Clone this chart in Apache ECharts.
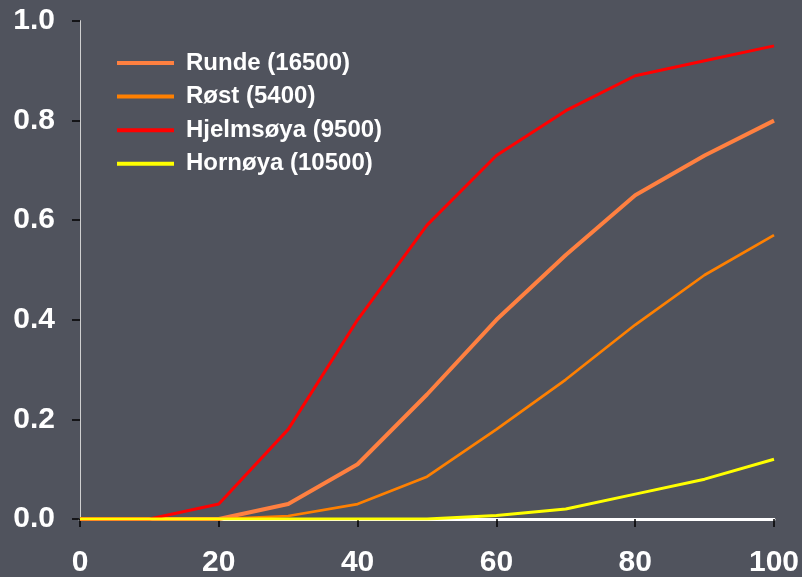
<!DOCTYPE html>
<html>
<head>
<meta charset="utf-8">
<script src="https://cdn.jsdelivr.net/npm/echarts@6/dist/echarts.min.js"></script>
<style>
html,body{margin:0;padding:0;background:#50535d;}
#c{width:802px;height:577px;}
</style>
</head>
<body>
<div id="c"></div>
<script>
const xValues = [0, 10, 20, 30, 40, 50, 60, 70, 80, 90, 100];
const seriesNames = ['Runde (16500)', 'Røst (5400)', 'Hjelmsøya (9500)', 'Hornøya (10500)'];
const runde = [0, 0, 0, 0.03, 0.11, 0.25, 0.40, 0.53, 0.65, 0.73, 0.80];
const rost = [0, 0, 0, 0.006, 0.03, 0.085, 0.18, 0.28, 0.39, 0.49, 0.57];
const hjelmsoya = [0, 0, 0.03, 0.18, 0.40, 0.59, 0.73, 0.82, 0.89, 0.92, 0.95];
const hornoya = [0, 0, 0, 0, 0, 0, 0.007, 0.02, 0.05, 0.08, 0.12];
const xTicks = [0, 20, 40, 60, 80, 100];
const yTicks = [0, 0.2, 0.4, 0.6, 0.8, 1.0];

const colors = ['#ff8040', '#ff8000', '#ff0000', '#ffff00'];
const widths = [4, 2.7, 3, 3];
const allData = [runde, rost, hjelmsoya, hornoya];

const chart = echarts.init(document.getElementById('c'), null, {renderer: 'canvas'});
const font = 'Liberation Sans, Arial, sans-serif';
chart.setOption({
  backgroundColor: '#50535d',
  animation: false,
  grid: {left: 80, right: 28, top: 21, bottom: 58, show: false, containLabel: false, outerBoundsMode: 'none'},
  legend: {
    show: true,
    left: 117,
    top: 51,
    padding: 0,
    orient: 'vertical',
    itemWidth: 57,
    itemHeight: 14,
    itemGap: 9.6,
    icon: 'path://M0,0 L57,0 L57,4 L0,4 Z',
    textStyle: {color: '#ffffff', fontFamily: font, fontWeight: 'bold', fontSize: 24, lineHeight: 24, padding: [0, 0, 0, 7]},
    data: seriesNames.map((n, i) => ({name: n, itemStyle: {color: colors[i]}}))
  },
  xAxis: [{
    type: 'value', min: xTicks[0], max: xTicks[xTicks.length - 1], interval: 20,
    axisLine: {show: true, onZero: false, lineStyle: {color: '#ffffff', width: 2}},
    axisTick: {show: true, inside: false, length: 8, lineStyle: {color: '#000000', width: 1.5}},
    axisLabel: {color: '#ffffff', fontFamily: font, fontWeight: 'bold', fontSize: 30, margin: 29},
    splitLine: {show: false}
  }, {
    type: 'value', position: 'top', min: 0, max: 100,
    axisLine: {show: true, lineStyle: {color: '#ffffff', width: 3}},
    axisTick: {show: false}, axisLabel: {show: false}, splitLine: {show: false}
  }],
  yAxis: [{
    type: 'value', min: yTicks[0], max: yTicks[yTicks.length - 1], interval: 0.2,
    axisLine: {show: true, onZero: false, lineStyle: {color: '#ffffff', width: 1}},
    axisTick: {show: true, inside: false, length: 8, lineStyle: {color: '#000000', width: 1.5}},
    axisLabel: {color: '#ffffff', fontFamily: font, fontWeight: 'bold', fontSize: 30, margin: 25,
      formatter: v => v.toFixed(1)},
    splitLine: {show: false}
  }, {
    type: 'value', position: 'right', min: 0, max: 1,
    axisLine: {show: true, lineStyle: {color: '#d0d0d0', width: 1}},
    axisTick: {show: false}, axisLabel: {show: false}, splitLine: {show: false}
  }],
  series: seriesNames.map((n, i) => ({
    name: n,
    type: 'line',
    xAxisIndex: 0,
    yAxisIndex: 0,
    symbol: 'none',
    color: colors[i],
    lineStyle: {color: colors[i], width: widths[i]},
    data: xValues.map((x, j) => [x, allData[i][j]]),
    z: 3 + i
  }))
});
</script>
</body>
</html>
